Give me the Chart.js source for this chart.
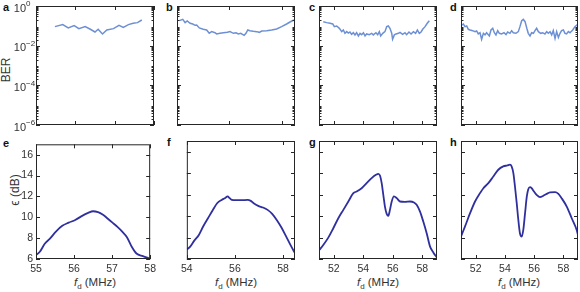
<!DOCTYPE html>
<html>
<head>
<meta charset="utf-8">
<script src="https://cdn.jsdelivr.net/npm/chart.js@4.4.1/dist/chart.umd.min.js"></script>
<style>
  body { margin: 0; width: 580px; height: 292px; background: #fff; position: relative; overflow: hidden;
         font-family: "Liberation Sans", Arial, sans-serif; color: #333; }
  canvas { position: absolute; }
  .lab { position: absolute; font-weight: bold; font-size: 11px; line-height: 11px; color: #111; }
  .ytitle { position: absolute; font-size: 12px; line-height: 12px; white-space: nowrap; transform: translate(-50%, -50%) rotate(-90deg); }
  .xtitle { position: absolute; font-size: 11.5px; line-height: 12px; white-space: nowrap; transform: translateX(-50%); }
  .xtitle sub { font-size: 8px; vertical-align: -3px; line-height: 0; }
</style>
</head>
<body>

<div class="lab" style="left:3px;top:2px">a</div>
<div class="lab" style="left:166px;top:2px">b</div>
<div class="lab" style="left:309px;top:2px">c</div>
<div class="lab" style="left:450px;top:2px">d</div>
<div class="lab" style="left:3px;top:138px">e</div>
<div class="lab" style="left:167px;top:137px">f</div>
<div class="lab" style="left:309px;top:137px">g</div>
<div class="lab" style="left:450px;top:137px">h</div>

<div class="ytitle" style="left:6px;top:70px">BER</div>
<div class="ytitle" style="left:15px;top:190px">ϵ (dB)</div>

<div class="xtitle" style="left:95px;top:276px"><i>f</i><sub>d</sub> (MHz)</div>
<div class="xtitle" style="left:236px;top:276px"><i>f</i><sub>d</sub> (MHz)</div>
<div class="xtitle" style="left:378px;top:276px"><i>f</i><sub>d</sub> (MHz)</div>
<div class="xtitle" style="left:519px;top:276px"><i>f</i><sub>d</sub> (MHz)</div>

<script>
// ---- data ----
// top row: bit error rate vs drive frequency (MHz)
const aFreq = [55.48,55.68,55.82,55.97,56.09,56.25,56.37,56.50,56.58,56.69,56.80,56.97,57.11,57.22,57.35,57.47,57.58,57.69];
const aBer  = [0.091,0.115,0.078,0.102,0.072,0.091,0.069,0.049,0.067,0.039,0.062,0.072,0.106,0.084,0.115,0.134,0.145,0.197];

const bFreq = [54.09,54.22,54.31,54.39,54.50,54.60,54.69,54.75,54.85,55.00,55.13,55.23,55.32,55.45,55.51,55.64,55.77,55.92,56.02,56.15,
               56.25,56.34,56.43,56.56,56.63,56.70,56.78,56.91,57.04,57.14,57.23,57.42,57.61,57.80,57.99,58.18,58.31,58.46];
const bBer  = [0.182,0.213,0.145,0.175,0.134,0.124,0.106,0.110,0.078,0.067,0.062,0.042,0.051,0.045,0.039,0.042,0.045,0.047,0.051,0.042,
               0.045,0.039,0.042,0.033,0.042,0.062,0.057,0.053,0.051,0.047,0.055,0.057,0.062,0.069,0.091,0.124,0.156,0.197];

const cFreq = [51.29,51.52,51.75,51.93,52.04,52.20,52.38,52.54,52.65,52.76,52.88,52.99,53.10,53.21,53.33,53.44,53.55,53.67,53.78,53.89,
               54.01,54.12,54.23,54.41,54.57,54.68,54.86,54.98,55.09,55.18,55.32,55.47,55.59,55.70,55.81,55.93,55.99,56.11,56.22,56.38,
               56.49,56.67,56.83,56.94,57.10,57.24,57.40,57.55,57.67,57.80,57.92,58.03,58.19,58.34,58.48];
const cBer  = [0.162,0.145,0.134,0.124,0.091,0.098,0.075,0.051,0.062,0.042,0.051,0.043,0.049,0.037,0.045,0.035,0.045,0.031,0.042,0.036,
               0.045,0.031,0.039,0.036,0.042,0.035,0.045,0.036,0.051,0.031,0.042,0.051,0.091,0.098,0.075,0.042,0.021,0.035,0.039,0.042,
               0.047,0.037,0.045,0.036,0.049,0.039,0.051,0.042,0.062,0.042,0.049,0.067,0.091,0.134,0.182];

const dFreq = [51.05,51.16,51.27,51.39,51.50,51.62,51.80,51.96,52.07,52.18,52.30,52.41,52.53,52.64,52.75,52.94,53.05,53.17,53.28,53.39,
               53.51,53.62,53.78,53.94,54.08,54.19,54.35,54.46,54.58,54.76,54.92,55.03,55.15,55.26,55.38,55.50,55.60,55.72,55.83,55.95,
               56.06,56.17,56.29,56.45,56.58,56.74,56.86,56.97,57.09,57.20,57.31,57.43,57.54,57.66,57.77,57.88,58.00,58.11,58.22,58.34,
               58.45,58.64,58.79,59.00];
const dBer  = [0.110,0.124,0.091,0.098,0.067,0.062,0.057,0.051,0.055,0.039,0.045,0.021,0.042,0.035,0.045,0.031,0.062,0.075,0.045,0.035,
               0.057,0.042,0.039,0.045,0.036,0.049,0.042,0.057,0.045,0.042,0.051,0.091,0.182,0.213,0.162,0.075,0.042,0.031,0.045,0.042,
               0.057,0.075,0.051,0.042,0.045,0.039,0.051,0.042,0.051,0.035,0.057,0.023,0.051,0.026,0.042,0.057,0.062,0.042,0.039,0.051,
               0.045,0.062,0.091,0.124];

// bottom row: epsilon (dB) vs drive frequency (MHz)
const eFreq = [55.00,55.10,55.23,55.36,55.53,55.69,55.86,56.03,56.20,56.37,56.50,56.63,56.75,56.88,57.01,57.14,57.26,57.39,57.52,57.64,57.81,57.98];
const eDb   = [6.37,6.69,7.46,7.93,8.65,9.18,9.49,9.74,10.11,10.42,10.58,10.49,10.27,9.89,9.49,9.08,8.65,8.09,7.15,6.53,6.28,6.06];

const fFreq = [54.01,54.14,54.31,54.50,54.69,54.88,55.07,55.26,55.45,55.58,55.70,55.77,55.87,56.02,56.28,56.53,56.66,56.78,56.97,57.17,
               57.36,57.55,57.74,57.93,58.12,58.31,58.50];
const fDb   = [6.90,7.15,7.71,8.24,9.08,9.80,10.52,11.20,11.51,11.67,11.83,11.70,11.51,11.48,11.48,11.51,11.42,11.20,10.95,10.80,
               10.58,10.21,9.64,8.96,8.15,7.31,6.53];

const gFreq = [51.02,51.29,51.63,51.97,52.31,52.65,52.99,53.33,53.55,53.89,54.23,54.57,54.86,55.02,55.14,55.25,55.36,55.47,55.59,55.70,
               55.81,55.93,56.08,56.27,56.49,56.83,57.17,57.44,57.62,57.85,58.07,58.30,58.53,58.76,58.98];
const gDb   = [6.84,7.31,7.99,8.87,9.80,10.58,11.36,12.14,12.29,12.60,13.07,13.54,13.85,13.94,13.76,13.07,11.98,10.89,10.21,10.02,
               10.58,11.36,11.83,11.67,11.36,11.33,11.36,11.27,11.05,10.42,9.49,8.40,7.15,6.59,6.16];

const hFreq = [51.00,51.27,51.62,51.96,52.30,52.53,52.87,53.21,53.55,53.89,54.17,54.35,54.46,54.58,54.69,54.81,54.92,55.03,55.15,55.26,
               55.38,55.50,55.60,55.72,55.83,55.99,56.17,56.40,56.63,56.86,57.09,57.43,57.66,57.88,58.23,58.57,58.91,59.00];
const hDb   = [8.09,9.02,10.27,11.36,12.14,12.60,13.07,13.69,14.32,14.63,14.72,14.79,14.63,14.01,12.76,11.20,9.64,8.40,8.09,8.71,
               10.27,11.83,12.51,12.70,12.60,12.29,11.98,11.76,11.89,12.07,12.20,12.23,12.07,11.67,10.89,9.80,8.71,8.24];

// axis ranges and ticks
const xRangeE = [55, 58],   xTicksE = [55, 56, 57, 58];
const xRangeF = [54, 58.5], xTicksF = [54, 56, 58];
const xRangeG = [51, 59],   xTicksG = [52, 54, 56, 58];
const berRange = [1e-6, 1];
const berTicks = [1, 1e-2, 1e-4, 1e-6];
const berExps  = ['0', '\u22122', '\u22124', '\u22126'];
const dbRange = [6, 17];
const dbTicks = [6, 8, 10, 12, 14, 16];

// minor ticks of the log axis: 2..9 in each decade
const berMinor = [];
for (let d = -6; d < 0; d++) for (let k = 2; k <= 9; k++) berMinor.push(k * Math.pow(10, d));

const FONT = '"Liberation Sans", Arial, sans-serif';
const TOP_COLOR = '#6d90d5';
const BOT_COLOR = '#2f2f9e';
const Y_W = 34;   // width reserved for y tick labels
const X_H = 20;   // height reserved for x tick labels
const PAD = 6;    // canvas margin around the plot box

// frame, inward tick marks and log labels
const framePlugin = {
  id: 'frame',
  afterDatasetsDraw(chart, args, o) {
    const { ctx, chartArea: a, scales } = chart;
    ctx.save();
    ctx.strokeStyle = '#262626';
    ctx.lineWidth = 1;
    ctx.strokeRect(a.left + 0.5, a.top + 0.5, a.right - a.left - 1, a.bottom - a.top - 1);
    ctx.beginPath();
    o.xTicks.forEach(v => {
      const px = Math.round(scales.x.getPixelForValue(v)) + 0.5;
      ctx.moveTo(px, a.bottom); ctx.lineTo(px, a.bottom - 4);
      ctx.moveTo(px, a.top); ctx.lineTo(px, a.top + 4);
    });
    const yTick = (v, len) => {
      const py = Math.round(scales.y.getPixelForValue(v)) + 0.5;
      ctx.moveTo(a.left, py); ctx.lineTo(a.left + len, py);
      ctx.moveTo(a.right, py); ctx.lineTo(a.right - len, py);
    };
    o.yTicks.forEach(v => yTick(v, 4));
    (o.yMinor || []).forEach(v => yTick(v, 2.5));
    ctx.stroke();

    if (o.logLabels) {
      ctx.fillStyle = '#333';
      berTicks.forEach((v, i) => {
        const py = scales.y.getPixelForValue(v);
        ctx.font = '11px ' + FONT;
        ctx.textAlign = 'right';
        ctx.textBaseline = 'middle';
        ctx.fillText('10', a.left - 10, py + 2.5);
        ctx.font = '8px ' + FONT;
        ctx.textAlign = 'left';
        ctx.fillText(berExps[i], a.left - 10, py - 2);
      });
    }
    ctx.restore();
  }
};

function panel(freq, vals, opt) {
  const cv = document.createElement('canvas');
  const yw = opt.yLabels ? Y_W : 0;
  const xh = opt.xLabels ? X_H : 0;
  const w = opt.r - opt.l + yw + PAD;
  const h = opt.b - opt.t + PAD + (opt.xLabels ? xh : PAD);
  cv.width = w; cv.height = h;
  cv.style.left = (opt.l - yw) + 'px';
  cv.style.top = (opt.t - PAD) + 'px';
  document.body.appendChild(cv);

  const tickFont = { family: FONT, size: 10.5 };
  new Chart(cv, {
    type: 'line',
    data: {
      datasets: [{
        data: freq.map((f, i) => ({ x: f, y: vals[i] })),
        borderColor: opt.color,
        borderWidth: opt.log ? 1.5 : 1.8,
        pointRadius: 0,
        tension: opt.log ? 0 : 0.35,
        cubicInterpolationMode: opt.log ? 'default' : 'monotone'
      }]
    },
    options: {
      responsive: false,
      animation: false,
      devicePixelRatio: 1,
      layout: { padding: { left: 0, right: PAD, top: PAD, bottom: opt.xLabels ? 0 : PAD } },
      plugins: {
        legend: { display: false },
        tooltip: { enabled: false },
        frame: { xTicks: opt.xTicks, yTicks: opt.log ? berTicks : dbTicks, yMinor: opt.log ? berMinor : null, logLabels: opt.log && opt.yLabels }
      },
      scales: {
        x: {
          type: 'linear', min: opt.xRange[0], max: opt.xRange[1],
          display: opt.xLabels,
          afterBuildTicks: s => { s.ticks = opt.xTicks.map(v => ({ value: v })); },
          afterFit: s => { s.height = xh; },
          grid: { display: false, drawTicks: false },
          border: { display: false },
          ticks: { padding: 4, color: '#333', font: tickFont, maxRotation: 0, autoSkip: false }
        },
        y: opt.log ? {
          type: 'logarithmic', min: berRange[0], max: berRange[1],
          display: opt.yLabels,
          afterFit: s => { s.width = yw; },
          grid: { display: false, drawTicks: false },
          border: { display: false },
          ticks: { display: false }
        } : {
          type: 'linear', min: dbRange[0], max: dbRange[1],
          display: opt.yLabels,
          afterBuildTicks: s => { s.ticks = dbTicks.map(v => ({ value: v })); },
          afterFit: s => { s.width = yw; },
          grid: { display: false, drawTicks: false },
          border: { display: false },
          ticks: { padding: 3, color: '#333', font: tickFont, autoSkip: false }
        }
      }
    },
    plugins: [framePlugin]
  });
}

// top row
panel(aFreq, aBer, { l: 36,  r: 154, t: 6, b: 125, log: true, yLabels: true,  xLabels: false, xRange: xRangeE, xTicks: xTicksE, color: TOP_COLOR });
panel(bFreq, bBer, { l: 177, r: 295, t: 6, b: 125, log: true, yLabels: false, xLabels: false, xRange: xRangeF, xTicks: xTicksF, color: TOP_COLOR });
panel(cFreq, cBer, { l: 319, r: 437, t: 6, b: 125, log: true, yLabels: false, xLabels: false, xRange: xRangeG, xTicks: xTicksG, color: TOP_COLOR });
panel(dFreq, dBer, { l: 461, r: 578, t: 6, b: 125, log: true, yLabels: false, xLabels: false, xRange: xRangeG, xTicks: xTicksG, color: TOP_COLOR });
// bottom row
panel(eFreq, eDb, { l: 36,  r: 154, t: 141, b: 259, log: false, yLabels: true,  xLabels: true, xRange: xRangeE, xTicks: xTicksE, color: BOT_COLOR });
panel(fFreq, fDb, { l: 177, r: 295, t: 141, b: 259, log: false, yLabels: false, xLabels: true, xRange: xRangeF, xTicks: xTicksF, color: BOT_COLOR });
panel(gFreq, gDb, { l: 319, r: 437, t: 141, b: 259, log: false, yLabels: false, xLabels: true, xRange: xRangeG, xTicks: xTicksG, color: BOT_COLOR });
panel(hFreq, hDb, { l: 461, r: 578, t: 141, b: 259, log: false, yLabels: false, xLabels: true, xRange: xRangeG, xTicks: xTicksG, color: BOT_COLOR });
</script>
</body>
</html>
